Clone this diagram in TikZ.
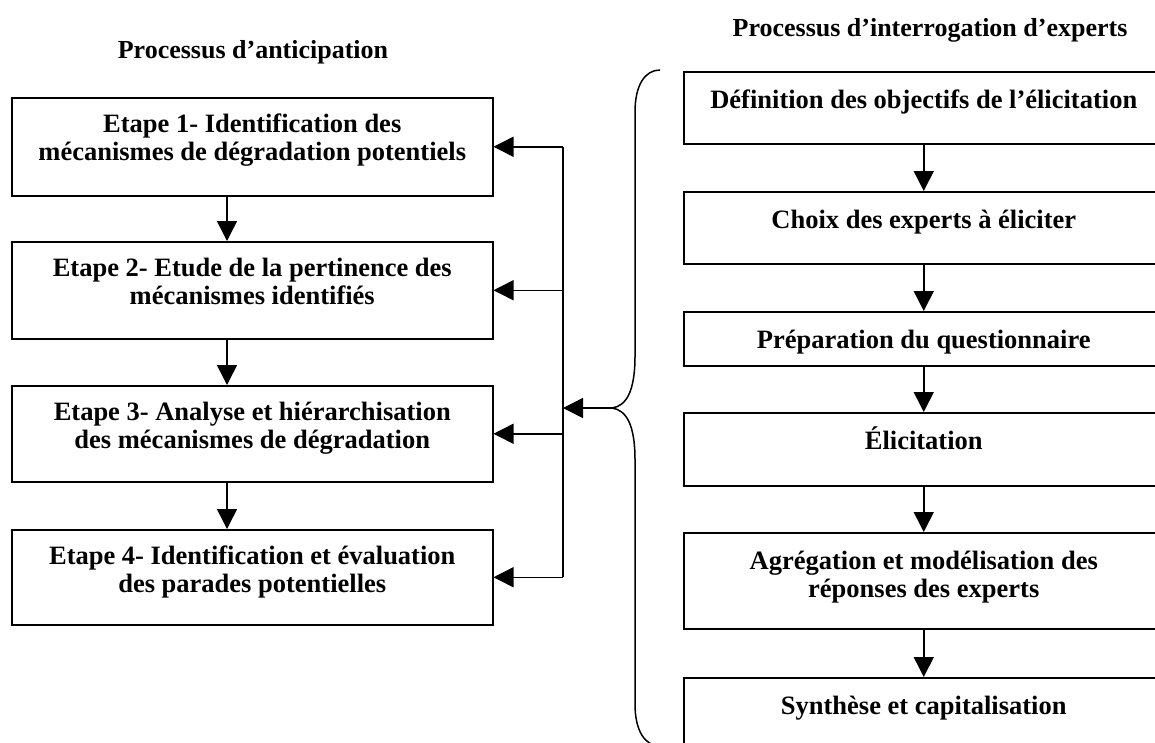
\documentclass[tikz,border=0pt]{standalone}
\usepackage{fontspec}
\setmainfont{Liberation Serif}
\usetikzlibrary{arrows.meta,calc}
\begin{document}
\begin{tikzpicture}[x=1pt,y=-1pt,
  box/.style={draw, line width=1.5pt, inner sep=0pt, anchor=north west, minimum height=#1},
  lbox/.style={box=#1, minimum width=481pt},
  rbox/.style={box=#1, minimum width=480pt},
  txt/.style={font=\bfseries\fontsize{26.5}{28.5}\selectfont, align=center, anchor=base, inner sep=0pt},
  ttl/.style={font=\bfseries\fontsize{26}{28}\selectfont, anchor=base, inner sep=0pt},
  arr/.style={line width=1.5pt, -{Triangle[width=20pt,length=20pt]}},
  ln/.style={line width=1.5pt}]
\useasboundingbox (0,0) rectangle (1155,742);
\clip (0,0) rectangle (1155,742);

% titles
\node[ttl] (t1) at (253,58) {Processus d’anticipation};
\node[ttl] (t2) at (930,36) {Processus d’interrogation d’experts};

% left column
\node[lbox=98] (L1) at (11,97) {};
\node[lbox=97] (L2) at (11,241) {};
\node[lbox=96] (L3) at (11,385) {};
\node[lbox=95] (L4) at (11,529) {};
\node[txt] (L1t) at ($(L1.north)+(0,63.5)$) {Etape 1- Identification des\\mécanismes de dégradation potentiels};
\node[txt] (L2t) at ($(L2.north)+(0,63.5)$) {Etape 2- Etude de la pertinence des\\mécanismes identifiés};
\node[txt] (L3t) at ($(L3.north)+(0,63.5)$) {Etape 3- Analyse et hiérarchisation\\des mécanismes de dégradation};
\node[txt] (L4t) at ($(L4.north)+(0,63.5)$) {Etape 4- Identification et évaluation\\des parades potentielles};

\coordinate (lx) at (227,0);
\draw[arr] (L1.south -| lx) -- (L2.north -| lx);
\draw[arr] (L2.south -| lx) -- (L3.north -| lx);
\draw[arr] (L3.south -| lx) -- (L4.north -| lx);

% right column
\node[rbox=72] (R1) at (683,71) {};
\node[rbox=72] (R2) at (683,191) {};
\node[rbox=54] (R3) at (683,311) {};
\node[rbox=73] (R4) at (683,412) {};
\node[rbox=96] (R5) at (683,532) {};
\node[rbox=100] (R6) at (683,677) {};
\node[txt] (R1t) at ($(R1.north)+(0,37)$) {Définition des objectifs de l’élicitation};
\node[txt] (R2t) at ($(R2.north)+(0,37)$) {Choix des experts à éliciter};
\node[txt] (R3t) at ($(R3.north)+(0,37)$) {Préparation du questionnaire};
\node[txt] (R4t) at ($(R4.north)+(0,37)$) {Élicitation};
\node[txt] (R5t) at ($(R5.north)+(0,65.5)$) {Agrégation et modélisation des\\réponses des experts};
\node[txt] (R6t) at ($(R6.north)+(0,37)$) {Synthèse et capitalisation};

\draw[arr] (R1.south) -- (R2.north);
\draw[arr] (R2.south) -- (R3.north);
\draw[arr] (R3.south) -- (R4.north);
\draw[arr] (R4.south) -- (R5.north);
\draw[arr] (R5.south) -- (R6.north);

% bus with feedback arrows
\coordinate (bx) at (563,0);
\draw[ln] (L1.east -| bx) -- (L4.east -| bx);
\draw[arr] (L1.east -| bx) -- (L1.east);
\draw[arr] (L2.east -| bx) -- (L2.east);
\draw[arr] (L3.east -| bx) -- (L3.east);
\draw[arr] (L4.east -| bx) -- (L4.east);

% brace
\coordinate (tip) at (612,408);
\coordinate (bin) at (563,408);
\draw[ln] (660,70) .. controls (645,70) and (635,85) .. (635,112) -- (635,356)
  .. controls (635,392) and (626,406) .. (tip)
  .. controls (626,410) and (635,424) .. (635,460) -- (635,704)
  .. controls (635,731) and (645,746) .. (660,746);
\draw[arr] (tip) -- (bin);
\end{tikzpicture}
\end{document}
